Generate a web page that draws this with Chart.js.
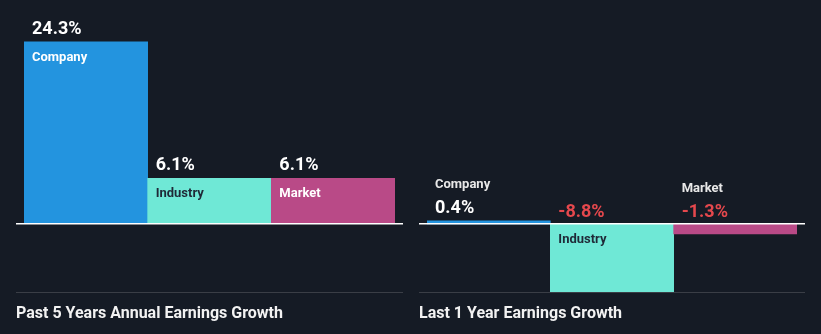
<!DOCTYPE html>
<html>
<head>
<meta charset="utf-8">
<script src="https://cdn.jsdelivr.net/npm/chart.js@4.4.1/dist/chart.umd.min.js"></script>
<style>
	html, body { margin: 0; padding: 0; background: #151b25; }
	#wrap { position: relative; width: 821px; height: 334px; overflow: hidden; font-family: Roboto, sans-serif; }
	canvas { position: absolute; top: 0; }
	.foot { position: absolute; top: 292px; height: 41px; border-top: 1px solid #3a3e46; }
	.foot span { position: absolute; left: 0; top: 12px; line-height: 16px; font-size: 16px; font-weight: bold; color: #f2f2f2; white-space: nowrap; }
</style>
</head>
<body>
<div id="wrap">
	<canvas id="past5" width="410" height="334" style="left:0"></canvas>
	<canvas id="last1" width="411" height="334" style="left:410px"></canvas>
	<div class="foot" style="left:16px;width:387px"><span id="title5"></span></div>
	<div class="foot" style="left:419px;width:386px"><span id="title1"></span></div>
</div>
<script>
// dati
const categories = ['Company', 'Industry', 'Market'];
const past5Growth = [24.3, 6.1, 6.1];
const last1Growth = [0.4, -8.8, -1.3];
const panelTitles = ['Past 5 Years Annual Earnings Growth', 'Last 1 Year Earnings Growth'];

const barColors = ['#2394df', '#6fe8d6', '#b94a87'];
const insideTextColors = ['#ffffff', '#1f2937', '#ffffff'];

// etichette: valore sopra la barra, categoria dentro (o sopra se la barra e' bassa)
const barLabels = {
	id: 'barLabels',
	afterDatasetsDraw(chart){
		const ctx = chart.ctx;
		const area = chart.chartArea;
		const zero = chart.scales.y.getPixelForValue(0);
		const values = chart.data.datasets[0].data;
		ctx.save();
		ctx.fillStyle = '#ffffff';
		ctx.fillRect(area.left - 8, Math.round(zero) - 1, area.right - area.left + 16, 1.5);
		chart.getDatasetMeta(0).data.forEach(function(bar, i){
			const v = values[i];
			const x = bar.x - bar.width / 2 + 8;
			const h = Math.abs(bar.base - bar.y);
			const top = Math.min(bar.y, bar.base);
			const valY = v >= 0 ? bar.y - 8 : zero - 7;
			ctx.textAlign = 'left';
			ctx.textBaseline = 'alphabetic';
			ctx.font = 'bold 18px Roboto';
			ctx.fillStyle = v >= 0 ? '#ffffff' : '#e5484d';
			ctx.fillText(v.toFixed(1) + '%', x, valY);
			ctx.font = 'bold 13px Roboto';
			if(h > 30){
				ctx.fillStyle = insideTextColors[i];
				ctx.fillText(chart.data.labels[i], x, top + 19);
			}else{
				ctx.fillStyle = '#e8e8e8';
				ctx.fillText(chart.data.labels[i], x, valY - 25);
			}
		});
		ctx.restore();
	}
};

function creaGrafico(id, values, yMin, yMax, padding){
	const ctx = document.getElementById(id).getContext('2d');
	return new Chart(ctx, {
		type: 'bar',
		data: {
			labels: categories,
			datasets: [{
				data: values,
				backgroundColor: barColors,
				borderWidth: 0,
				categoryPercentage: 1,
				barPercentage: 1
			}]
		},
		options: {
			responsive: false,
			animation: false,
			devicePixelRatio: 1,
			layout: { padding: padding },
			scales: {
				x: { display: false },
				y: { display: false, min: yMin, max: yMax }
			},
			plugins: {
				legend: { display: false },
				tooltip: { enabled: false }
			}
		},
		plugins: [barLabels]
	});
}

document.getElementById('title5').textContent = panelTitles[0];
document.getElementById('title1').textContent = panelTitles[1];

creaGrafico('past5', past5Growth, 0, 28, { left: 24, right: 15, top: 14, bottom: 110 });
creaGrafico('last1', last1Growth, -10, 10, { left: 17, right: 24, top: 147, bottom: 33 });
</script>
</body>
</html>
